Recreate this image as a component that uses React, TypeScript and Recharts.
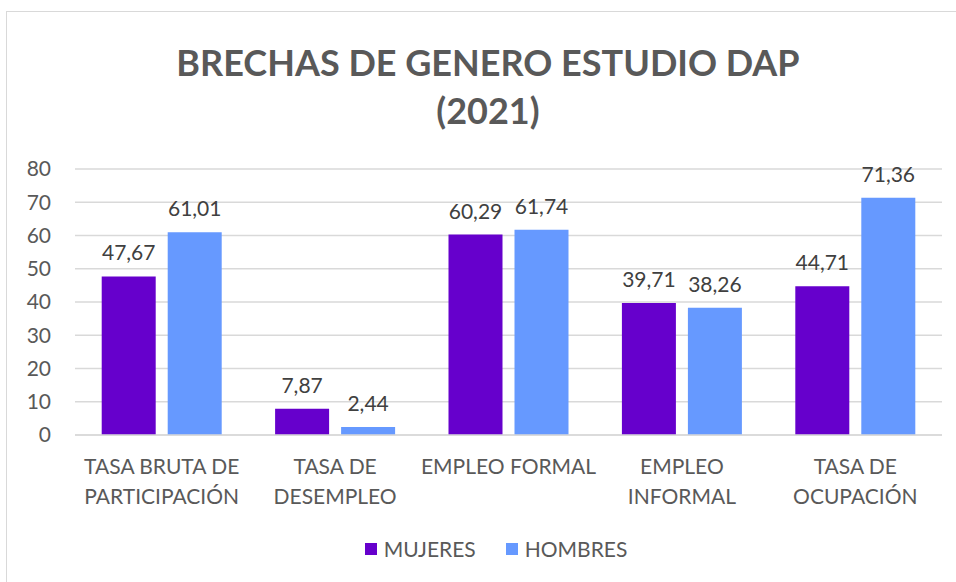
import React from 'react';
import { BarChart, Bar, XAxis, YAxis, CartesianGrid, LabelList } from 'recharts';

const categories = [
  'TASA BRUTA DE\nPARTICIPACIÓN',
  'TASA DE\nDESEMPLEO',
  'EMPLEO FORMAL',
  'EMPLEO\nINFORMAL',
  'TASA DE\nOCUPACIÓN',
];
const mujeres = [47.67, 7.87, 60.29, 39.71, 44.71];
const hombres = [61.01, 2.44, 61.74, 38.26, 71.36];
const yTicks = [0, 10, 20, 30, 40, 50, 60, 70, 80];

const chartData = categories.map((name, i) => ({
  name,
  mujeres: mujeres[i],
  hombres: hombres[i],
}));

const FONT = 'Lato, "Open Sans", sans-serif';
const TEXT = '#595959';
const PURPLE = '#6600CC';
const BLUE = '#6699FF';

const fmt = (v: any) => Number(v).toFixed(2).replace('.', ',');

const CategoryTick = (props: any) => {
  const { x, y, payload } = props;
  const lines = String(payload.value).split('\n');
  return (
    <g transform={`translate(${x},${y})`}>
      {lines.map((line, i) => (
        <text
          key={i}
          x={0}
          y={31 + i * 30}
          textAnchor="middle"
          fill={TEXT}
          fontSize={21}
          fontFamily={FONT}
        >
          {line}
        </text>
      ))}
    </g>
  );
};

const legendItems = [
  { label: 'MUJERES', color: PURPLE },
  { label: 'HOMBRES', color: BLUE },
];

export default function App() {
  return (
    <div
      style={{
        position: 'absolute',
        left: 0,
        top: 0,
        width: 956,
        height: 582,
        overflow: 'hidden',
        background: '#fff',
        fontFamily: FONT,
      }}
    >
      <div
        style={{
          position: 'absolute',
          left: 6,
          top: 11,
          width: 1000,
          height: 700,
          border: '1px solid #D9D9D9',
        }}
      />
      <div
        style={{
          position: 'absolute',
          left: 0,
          top: 38,
          width: 976,
          textAlign: 'center',
          color: TEXT,
          fontWeight: 700,
          fontSize: 36,
          lineHeight: '48px',
        }}
      >
        BRECHAS DE GENERO ESTUDIO DAP
        <br />
        (2021)
      </div>
      <div style={{ position: 'absolute', left: 0, top: 0 }}>
        <BarChart
          width={956}
          height={582}
          data={chartData}
          margin={{ top: 169, right: 14, bottom: 117, left: 0 }}
          barCategoryGap="15.4%"
          barGap={12}
        >
          <CartesianGrid vertical={false} stroke="#D9D9D9" strokeWidth={1.5} />
          <XAxis
            dataKey="name"
            tick={<CategoryTick />}
            tickLine={false}
            axisLine={{ stroke: '#D9D9D9', strokeWidth: 1.5 }}
            interval={0}
          />
          <YAxis
            width={75}
            domain={[0, 80]}
            ticks={yTicks}
            tickLine={false}
            axisLine={false}
            tick={{ fill: TEXT, fontSize: 21, fontFamily: FONT }}
            tickMargin={18}
          />
          <Bar dataKey="mujeres" fill={PURPLE} isAnimationActive={false}>
            <LabelList
              dataKey="mujeres"
              position="top"
              offset={16}
              formatter={fmt}
              fill="#404040"
              fontSize={21}
              fontFamily={FONT}
            />
          </Bar>
          <Bar dataKey="hombres" fill={BLUE} isAnimationActive={false}>
            <LabelList
              dataKey="hombres"
              position="top"
              offset={16}
              formatter={fmt}
              fill="#404040"
              fontSize={21}
              fontFamily={FONT}
            />
          </Bar>
        </BarChart>
      </div>
      <div
        style={{
          position: 'absolute',
          left: 0,
          top: 536,
          width: 992,
          display: 'flex',
          justifyContent: 'center',
          gap: 30,
          color: TEXT,
          fontSize: 21,
        }}
      >
        {legendItems.map((it) => (
          <div key={it.label} style={{ display: 'flex', alignItems: 'center', gap: 7 }}>
            <span style={{ width: 12, height: 12, background: it.color, display: 'inline-block' }} />
            <span>{it.label}</span>
          </div>
        ))}
      </div>
    </div>
  );
}
